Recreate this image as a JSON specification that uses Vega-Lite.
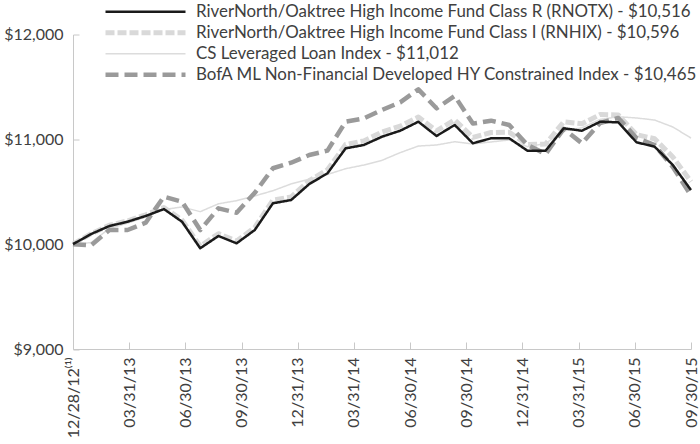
{
  "$schema": "https://vega.github.io/schema/vega-lite/v6.json",
  "width": 618,
  "height": 314.5,
  "autosize": {"type": "none"},
  "padding": {"left": 73, "top": 34.5, "right": 9, "bottom": 95},
  "background": "white",
  "config": {"view": {"stroke": null}, "font": "Lato"},
  "data": {"values": [
    {"i": 0, "date": "12/28/12", "R": 10000, "I": 10000, "CS": 10000, "BofA": 10000},
    {"i": 1, "date": "12/31/12", "R": 10097, "I": 10100, "CS": 10015, "BofA": 9990},
    {"i": 2, "date": "01/31/13", "R": 10173, "I": 10180, "CS": 10150, "BofA": 10135},
    {"i": 3, "date": "02/28/13", "R": 10214, "I": 10222, "CS": 10200, "BofA": 10135},
    {"i": 4, "date": "03/31/13", "R": 10269, "I": 10280, "CS": 10260, "BofA": 10205},
    {"i": 5, "date": "04/30/13", "R": 10335, "I": 10350, "CS": 10330, "BofA": 10453},
    {"i": 6, "date": "05/31/13", "R": 10214, "I": 10230, "CS": 10355, "BofA": 10405},
    {"i": 7, "date": "06/30/13", "R": 9961, "I": 9980, "CS": 10310, "BofA": 10135},
    {"i": 8, "date": "07/31/13", "R": 10078, "I": 10100, "CS": 10385, "BofA": 10342},
    {"i": 9, "date": "08/31/13", "R": 10008, "I": 10030, "CS": 10415, "BofA": 10300},
    {"i": 10, "date": "09/30/13", "R": 10135, "I": 10160, "CS": 10460, "BofA": 10490},
    {"i": 11, "date": "10/31/13", "R": 10390, "I": 10420, "CS": 10510, "BofA": 10724},
    {"i": 12, "date": "11/30/13", "R": 10421, "I": 10450, "CS": 10575, "BofA": 10777},
    {"i": 13, "date": "12/31/13", "R": 10574, "I": 10605, "CS": 10620, "BofA": 10851},
    {"i": 14, "date": "01/31/14", "R": 10676, "I": 10710, "CS": 10665, "BofA": 10892},
    {"i": 15, "date": "02/28/14", "R": 10914, "I": 10950, "CS": 10720, "BofA": 11168},
    {"i": 16, "date": "03/31/14", "R": 10946, "I": 10985, "CS": 10755, "BofA": 11200},
    {"i": 17, "date": "04/30/14", "R": 11025, "I": 11070, "CS": 10800, "BofA": 11280},
    {"i": 18, "date": "05/31/14", "R": 11082, "I": 11125, "CS": 10873, "BofA": 11353},
    {"i": 19, "date": "06/30/14", "R": 11168, "I": 11212, "CS": 10936, "BofA": 11477},
    {"i": 20, "date": "07/31/14", "R": 11032, "I": 11080, "CS": 10946, "BofA": 11296},
    {"i": 21, "date": "08/31/14", "R": 11137, "I": 11185, "CS": 10977, "BofA": 11413},
    {"i": 22, "date": "09/30/14", "R": 10962, "I": 11018, "CS": 10956, "BofA": 11150},
    {"i": 23, "date": "10/31/14", "R": 11010, "I": 11065, "CS": 10975, "BofA": 11178},
    {"i": 24, "date": "11/30/14", "R": 11010, "I": 11068, "CS": 10994, "BofA": 11137},
    {"i": 25, "date": "12/31/14", "R": 10892, "I": 10950, "CS": 10930, "BofA": 10946},
    {"i": 26, "date": "01/31/15", "R": 10892, "I": 10955, "CS": 10960, "BofA": 10860},
    {"i": 27, "date": "02/28/15", "R": 11105, "I": 11168, "CS": 11080, "BofA": 11100},
    {"i": 28, "date": "03/31/15", "R": 11082, "I": 11148, "CS": 11110, "BofA": 10962},
    {"i": 29, "date": "04/30/15", "R": 11168, "I": 11236, "CS": 11190, "BofA": 11156},
    {"i": 30, "date": "05/31/15", "R": 11162, "I": 11232, "CS": 11215, "BofA": 11204},
    {"i": 31, "date": "06/30/15", "R": 10972, "I": 11045, "CS": 11204, "BofA": 11013},
    {"i": 32, "date": "07/31/15", "R": 10930, "I": 11005, "CS": 11184, "BofA": 10946},
    {"i": 33, "date": "08/31/15", "R": 10755, "I": 10832, "CS": 11118, "BofA": 10736},
    {"i": 34, "date": "09/30/15", "R": 10516, "I": 10596, "CS": 11012, "BofA": 10465}
  ]},
  "transform": [{"fold": ["CS", "I", "BofA", "R"], "as": ["series", "value"]}],
  "mark": {"type": "line", "strokeJoin": "round"},
  "encoding": {
    "x": {
      "field": "i", "type": "quantitative",
      "scale": {"domain": [0, 34], "nice": false, "zero": false},
      "axis": {
        "title": null, "grid": false,
        "values": [0, 3.0909, 6.1818, 9.2727, 12.3636, 15.4545, 18.5455, 21.6364, 24.7273, 27.8182, 30.9091, 34],
        "labelExpr": "['12/28/12⁽¹⁾','03/31/13','06/30/13','09/30/13','12/31/13','03/31/14','06/30/14','09/30/14','12/31/14','03/31/15','06/30/15','09/30/15'][round(datum.value*11/34)]",
        "labelAngle": 270, "labelAlign": "right", "labelBaseline": "middle",
        "labelFontSize": 16, "labelColor": "#404040", "labelOverlap": false, "labelFlush": false,
        "labelPadding": 15, "tickSize": -7,
        "domainColor": "#c8c8c8", "tickColor": "#c8c8c8", "domainWidth": 1, "tickWidth": 1
      }
    },
    "y": {
      "field": "value", "type": "quantitative",
      "scale": {"domain": [9000, 12000], "nice": false, "zero": false},
      "axis": {
        "title": null, "grid": false,
        "values": [9000, 10000, 11000, 12000], "format": "$,.0f",
        "labelFontSize": 16, "labelColor": "#404040", "labelPadding": 16, "tickSize": -6,
        "domainColor": "#c8c8c8", "tickColor": "#c8c8c8", "domainWidth": 1, "tickWidth": 1
      }
    },
    "color": {
      "field": "series", "type": "nominal",
      "scale": {"domain": ["R", "I", "CS", "BofA"], "range": ["#1a1a1a", "#d9d9d9", "#dcdcdc", "#9a9a9a"]},
      "legend": {
        "title": null, "orient": "none", "legendX": 30, "legendY": -33,
        "symbolType": "stroke", "symbolSize": 6400, "labelFontSize": 16.9, "labelColor": "#404040",
        "labelOffset": 8, "rowPadding": 0, "clipHeight": 20.7, "padding": 0, "labelLimit": 700,
        "labelExpr": "datum.label == 'R' ? 'RiverNorth/Oaktree High Income Fund Class R (RNOTX) - $10,516' : datum.label == 'I' ? 'RiverNorth/Oaktree High Income Fund Class I (RNHIX) - $10,596' : datum.label == 'CS' ? 'CS Leveraged Loan Index - $11,012' : 'BofA ML Non-Financial Developed HY Constrained Index - $10,465'"
      }
    },
    "strokeDash": {
      "field": "series", "type": "nominal",
      "scale": {"domain": ["R", "I", "CS", "BofA"], "range": [[1, 0], [9, 3], [1, 0], [13, 6]]}
    },
    "strokeWidth": {
      "field": "series", "type": "nominal",
      "scale": {"type": "ordinal", "domain": ["R", "I", "CS", "BofA"], "range": [2.5, 5, 1.5, 4.5]}
    }
  }
}
